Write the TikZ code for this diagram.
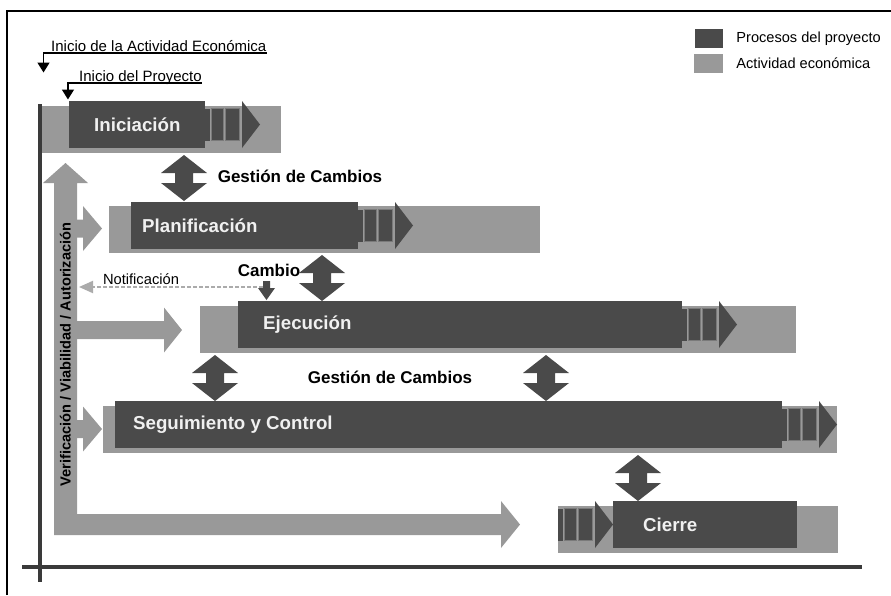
\documentclass[tikz,border=0pt]{standalone}
\usepackage{fontspec}
\setmainfont{Liberation Sans}
\usetikzlibrary{positioning,arrows.meta}
\definecolor{oscuro}{HTML}{4A4A4A}
\definecolor{gris}{HTML}{999999}
\definecolor{linea}{HTML}{3A3A3A}
\definecolor{claro}{HTML}{ABABAB}
\definecolor{blanco}{HTML}{F0F0F0}
\tikzset{
  actividad/.style={fill=gris, minimum height=47pt, inner sep=0pt, outer sep=0pt, anchor=north west},
  proceso/.style={fill=oscuro, minimum height=47pt, inner sep=0pt, outer sep=0pt, anchor=north west},
  etiqueta/.style={text=blanco, font=\bfseries\fontsize{18.7}{20}\selectfont, inner sep=0pt, anchor=west},
  texto/.style={font=\fontsize{15}{17}\selectfont, inner sep=0pt},
  gestion/.style={font=\bfseries\fontsize{17}{19}\selectfont, inner sep=0pt},
  flechita/.style={line width=1.5pt, -{Triangle[length=10pt,width=12pt]}},
  eje/.style={line width=4pt, draw=linea},
  cuadro/.style={fill=oscuro, draw=gris!80!black, line width=0.7pt}
}
\newcommand{\cola}[1]{%
  \begin{scope}[shift={(#1)}]
    \fill[oscuro] (0,-16) rectangle (5,16);
    \filldraw[cuadro] (6,-16) rectangle (18,16);
    \filldraw[cuadro] (20,-16) rectangle (34,16);
    \fill[oscuro] (37,-23.5) -- (55,0) -- (37,23.5) -- cycle;
  \end{scope}}
\newcommand{\flechadoble}[1]{%
  \fill[oscuro, shift={(#1)}] (0,-23) -- (23,-5) -- (9,-5) -- (9,5) -- (23,5) -- (0,23)
    -- (-23,5) -- (-9,5) -- (-9,-5) -- (-23,-5) -- cycle;}
\newcommand{\flechagris}[3]{%
  \fill[gris] (77,#1-9) -- (#2,#1-9) -- (#2,#1-22.5) -- (#3,#1) -- (#2,#1+22.5)
    -- (#2,#1+9) -- (77,#1+9) -- cycle;}

\begin{document}
\begin{tikzpicture}[x=1pt, y=-1pt]
    \useasboundingbox (0,0) rectangle (891,595);
    \draw[line width=1.5pt] (7,595) -- (7,11) -- (891,11);

    \node[actividad, minimum width=239pt] (iniG) at (42,106) {};
    \node[actividad, minimum width=431pt] (plaG) at (109,206) {};
    \node[actividad, minimum width=596pt] (ejeG) at (200,306) {};
    \node[actividad, minimum width=734pt] (segG) at (103,406) {};
    \node[actividad, minimum width=280pt] (cieG) at (558,506) {};

    \node[proceso, minimum width=136pt] (ini) at (69,101) {};
    \node[proceso, minimum width=227pt] (pla) at (131,202) {};
    \node[proceso, minimum width=444pt] (eje) at (238,301) {};
    \node[proceso, minimum width=667pt] (seg) at (115,401) {};
    \node[proceso, minimum width=184pt] (cie) at (613,501) {};

    \cola{ini.east}
    \cola{pla.east}
    \cola{eje.east}
    \cola{seg.east}
    \cola{cieG.west |- cie}

    \node[etiqueta] at ([xshift=25pt]ini.west) {Iniciación};
    \node[etiqueta] at ([xshift=11pt]pla.west) {Planificación};
    \node[etiqueta] at ([xshift=25pt]eje.west) {Ejecución};
    \node[etiqueta] at ([xshift=18pt]seg.west) {Seguimiento y Control};
    \node[etiqueta] at ([xshift=30pt]cie.west) {Cierre};

    \fill[gris] (54,535) -- (54,183) -- (43,183) -- (65.5,163) -- (88,183) -- (77,183)
      -- (77,514) -- (501,514) -- (501,501) -- (520,524.5) -- (501,548) -- (501,535) -- cycle;
    \flechagris{228.5}{83}{102}
    \flechagris{330}{164}{182}
    \flechagris{429}{83}{102}
    \node[rotate=90, font=\bfseries\fontsize{14.6}{16}\selectfont, inner sep=0pt] (verif)
      at (65.5,354.5) {Verificación / Viabilidad / Autorización};

    \flechadoble{184,178}
    \flechadoble{322,278}
    \flechadoble{215,378}
    \flechadoble{546,378}
    \flechadoble{638,478}
    \node[gestion] (gc1) at (300,176) {Gestión de Cambios};
    \node[gestion] (gc2) at (390,377) {Gestión de Cambios};

    \node[gestion] (cambio) at (269,270) {Cambio};
    \fill[oscuro] (263,281) -- (270,281) -- (270,288) -- (275,288) -- (266.5,300)
      -- (258,288) -- (263,288) -- cycle;
    \coordinate (avisoIni) at (263,287);
    \coordinate (avisoFin) at (79,287);
    \draw[claro, line width=2pt, dash pattern=on 4pt off 2pt,
      -{Triangle[length=14pt,width=12pt]}] (avisoIni) -- (avisoFin);
    \node[texto, font=\fontsize{14.7}{16}\selectfont] (notif) at (141,279) {Notificación};

    \draw[eje] (40,104) -- (40,582);
    \draw[eje] (22,567) -- (862,567);

    \node[texto, anchor=base west] (inicioAE) at (51,51) {Inicio de la Actividad Económica};
    \draw[flechita] ([yshift=-2pt]inicioAE.base east) -- ++(-223,0) -- ++(0,19.5);
    \node[texto, anchor=base west] (inicioP) at (79,81) {Inicio del Proyecto};
    \draw[flechita] ([yshift=-2pt]inicioP.base east) -- ++(-134,0) -- ++(0,16.5);

    \node[fill=oscuro, minimum width=28pt, minimum height=19pt, inner sep=0pt] (legP) at (709,38.5) {};
    \node[fill=gris, minimum width=29pt, minimum height=19pt, inner sep=0pt] (legA) at (708.5,63.5) {};
    \node[texto, font=\fontsize{14.6}{16}\selectfont, right=13pt of legP] {Procesos del proyecto};
    \node[texto, font=\fontsize{14.6}{16}\selectfont, right=13pt of legA] {Actividad económica};
\end{tikzpicture}
\end{document}
